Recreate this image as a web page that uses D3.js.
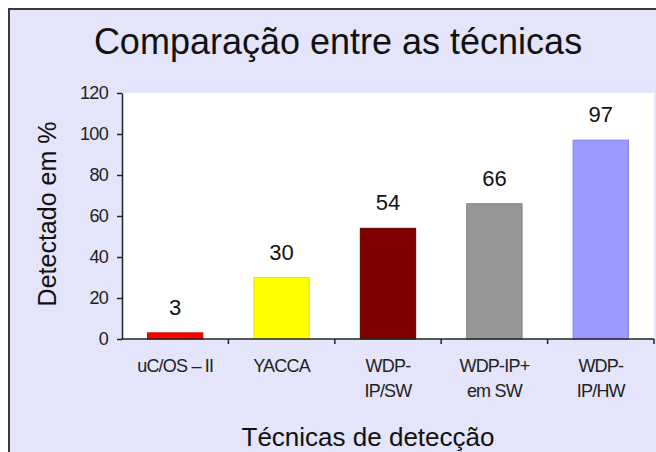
<!DOCTYPE html>
<html>
<head>
<meta charset="utf-8">
<script src="https://cdn.jsdelivr.net/npm/d3@7"></script>
<style>
  html, body { margin: 0; padding: 0; background: #ffffff; }
  svg { display: block; font-family: "Liberation Sans", Arial, sans-serif; }
</style>
</head>
<body>
<svg id="chart" width="656" height="452"></svg>
<script>
// Detection rate per technique (%)
const categories = ["uC/OS – II", "YACCA", "WDP-IP/SW", "WDP-IP+ em SW", "WDP-IP/HW"];
const categoryLines = [["uC/OS – II"], ["YACCA"], ["WDP-", "IP/SW"], ["WDP-IP+", "em SW"], ["WDP-", "IP/HW"]];
const values = [3, 30, 54, 66, 97];
const barColors = ["#ff0000", "#ffff00", "#800000", "#969696", "#9999ff"];
const barStrokes = ["#d80000", "#e6e600", "#6a0000", "#808080", "#8080f0"];
const yTicks = [0, 20, 40, 60, 80, 100, 120];

const svg = d3.select("#chart");

// outer chart frame
svg.append("rect")
  .attr("x", 9).attr("y", 9)
  .attr("width", 660).attr("height", 460)
  .attr("fill", "#e4e4fa")
  .attr("stroke", "#3a3a3a")
  .attr("stroke-width", 2);

const plot = { left: 122, right: 654, top: 93, bottom: 339 };

const x = d3.scaleBand()
  .domain(categories)
  .range([plot.left, plot.right])
  .paddingInner(0.48)
  .paddingOuter(0.24);

const y = d3.scaleLinear()
  .domain([0, 120])
  .range([plot.bottom, plot.top]);

// plot area
svg.append("rect")
  .attr("x", plot.left).attr("y", plot.top)
  .attr("width", plot.right - plot.left)
  .attr("height", plot.bottom - plot.top)
  .attr("fill", "#ffffff");

// bars
svg.append("g").selectAll("rect")
  .data(values)
  .join("rect")
  .attr("x", (d, i) => x(categories[i]))
  .attr("y", d => y(d))
  .attr("width", x.bandwidth())
  .attr("height", d => y(0) - y(d))
  .attr("fill", (d, i) => barColors[i])
  .attr("stroke", (d, i) => barStrokes[i])
  .attr("stroke-width", 1);

// value labels
svg.append("g").selectAll("text")
  .data(values)
  .join("text")
  .attr("x", (d, i) => x(categories[i]) + x.bandwidth() / 2)
  .attr("y", d => y(d) - 18)
  .attr("text-anchor", "middle")
  .attr("font-size", 22)
  .attr("fill", "#111")
  .text(d => d);

// y axis
const yAxis = svg.append("g")
  .attr("transform", `translate(${plot.left},0)`)
  .call(d3.axisLeft(y).tickValues(yTicks).tickSize(5).tickPadding(9).tickSizeOuter(0));
yAxis.select(".domain").attr("stroke", "#222").attr("stroke-width", 1.5);
yAxis.selectAll(".tick line").attr("stroke", "#222").attr("stroke-width", 1.5);
yAxis.selectAll(".tick text")
  .attr("font-size", 18)
  .attr("letter-spacing", -0.7)
  .attr("fill", "#222")
  .attr("font-family", "'Liberation Sans', Arial, sans-serif");

// x axis: line with tick marks at category boundaries
const xAxis = svg.append("g")
  .attr("transform", `translate(0,${plot.bottom})`);
xAxis.append("line")
  .attr("x1", plot.left).attr("x2", plot.right)
  .attr("stroke", "#222").attr("stroke-width", 1.5);
const step = x.step();
xAxis.selectAll("line.b")
  .data(categories)
  .join("line")
  .attr("class", "b")
  .attr("x1", d => x(d) - step * x.paddingInner() / 2 + step)
  .attr("x2", d => x(d) - step * x.paddingInner() / 2 + step)
  .attr("y1", 0).attr("y2", 5)
  .attr("stroke", "#222").attr("stroke-width", 1.5);

// category labels
const catG = svg.append("g").selectAll("text")
  .data(categories)
  .join("text")
  .attr("x", d => x(d) + x.bandwidth() / 2)
  .attr("y", plot.bottom + 33)
  .attr("text-anchor", "middle")
  .attr("font-size", 18)
  .attr("letter-spacing", -0.8)
  .attr("fill", "#222");
catG.selectAll("tspan")
  .data((d, i) => categoryLines[i])
  .join("tspan")
  .attr("x", function () { return d3.select(this.parentNode).attr("x"); })
  .attr("dy", (d, j) => j === 0 ? 0 : 25)
  .text(d => d);

// titles
svg.append("text")
  .attr("x", 338).attr("y", 54)
  .attr("text-anchor", "middle")
  .attr("font-size", 36)
  .attr("fill", "#111")
  .text("Comparação entre as técnicas");

svg.append("text")
  .attr("transform", `translate(56,${(plot.top + plot.bottom) / 2 - 2}) rotate(-90)`)
  .attr("text-anchor", "middle")
  .attr("font-size", 25)
  .attr("fill", "#111")
  .text("Detectado em %");

svg.append("text")
  .attr("x", 368).attr("y", 446)
  .attr("text-anchor", "middle")
  .attr("font-size", 26)
  .attr("fill", "#111")
  .text("Técnicas de detecção");
</script>
</body>
</html>
